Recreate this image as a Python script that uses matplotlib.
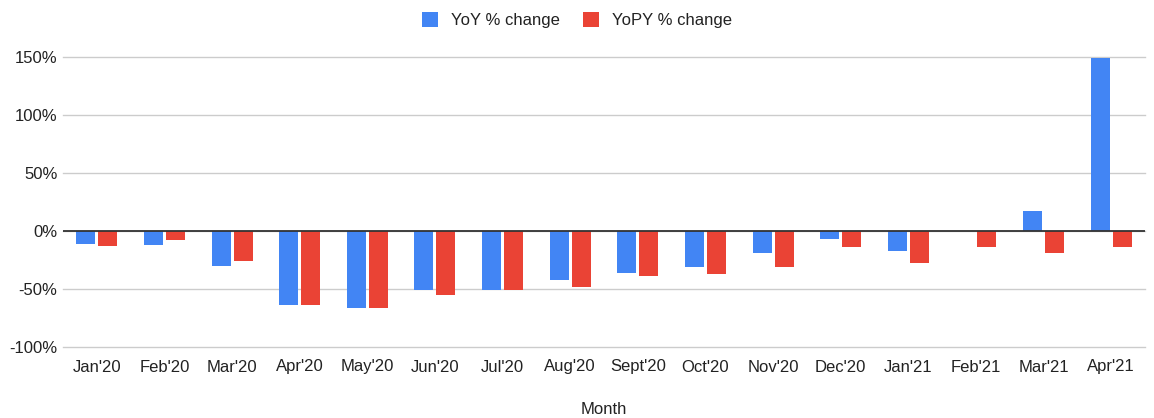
import numpy as np
import matplotlib
matplotlib.use("Agg")
import matplotlib.pyplot as plt
from matplotlib.ticker import FuncFormatter

months = ["Jan'20", "Feb'20", "Mar'20", "Apr'20", "May'20", "Jun'20", "Jul'20", "Aug'20",
          "Sept'20", "Oct'20", "Nov'20", "Dec'20", "Jan'21", "Feb'21", "Mar'21", "Apr'21"]
yoy = [-11, -12, -30, -64, -66, -51, -51, -42, -36, -31, -19, -7, -17, 0, 17, 149]
yopy = [-13, -8, -26, -64, -66, -55, -51, -48, -39, -37, -31, -14, -28, -14, -19, -14]

plt.rcParams['font.family'] = ['Liberation Sans', 'DejaVu Sans']

fig = plt.figure(figsize=(11.54, 4.18), dpi=100)
ax = fig.add_axes([63 / 1154, 1 - 347 / 418, (1145 - 63) / 1154, (347 - 57) / 418])

x = np.arange(len(months))
w = 0.28
off = 0.163
ax.bar(x - off, yoy, w, color="#4285F4", label="YoY % change", zorder=3)
ax.bar(x + off, yopy, w, color="#EA4335", label="YoPY % change", zorder=3)

ax.set_xlim(-0.5, len(months) - 0.5)
ax.set_ylim(-100, 150)
ax.set_yticks([-100, -50, 0, 50, 100, 150])
ax.yaxis.set_major_formatter(FuncFormatter(lambda v, p: "%d%%" % v))
ax.set_xticks(x)
ax.set_xticklabels(months)
ax.grid(axis="y", color="#cccccc", linewidth=1, zorder=0)
for gl in ax.get_ygridlines():
    gl.set_clip_on(False)
ax.axhline(0, color="#333333", linewidth=1.3, zorder=4)
for s in ax.spines.values():
    s.set_visible(False)
ax.tick_params(length=0, labelsize=12, labelcolor="#222222")
ax.tick_params(axis="y", pad=4)
ax.tick_params(axis="x", pad=9)
fig.text(0.5 * (63 + 1145) / 1154, 1 - 409 / 418, "Month", ha="center", va="center",
         fontsize=12, color="#222222")

fig.legend(loc="center", bbox_to_anchor=(0.5, 1 - 20 / 418), ncol=2, frameon=False,
           fontsize=12, labelcolor="#222222", handlelength=0.95, handleheight=1.05,
           handletextpad=0.8, columnspacing=1.4)

fig.savefig("out.png", dpi=100)
